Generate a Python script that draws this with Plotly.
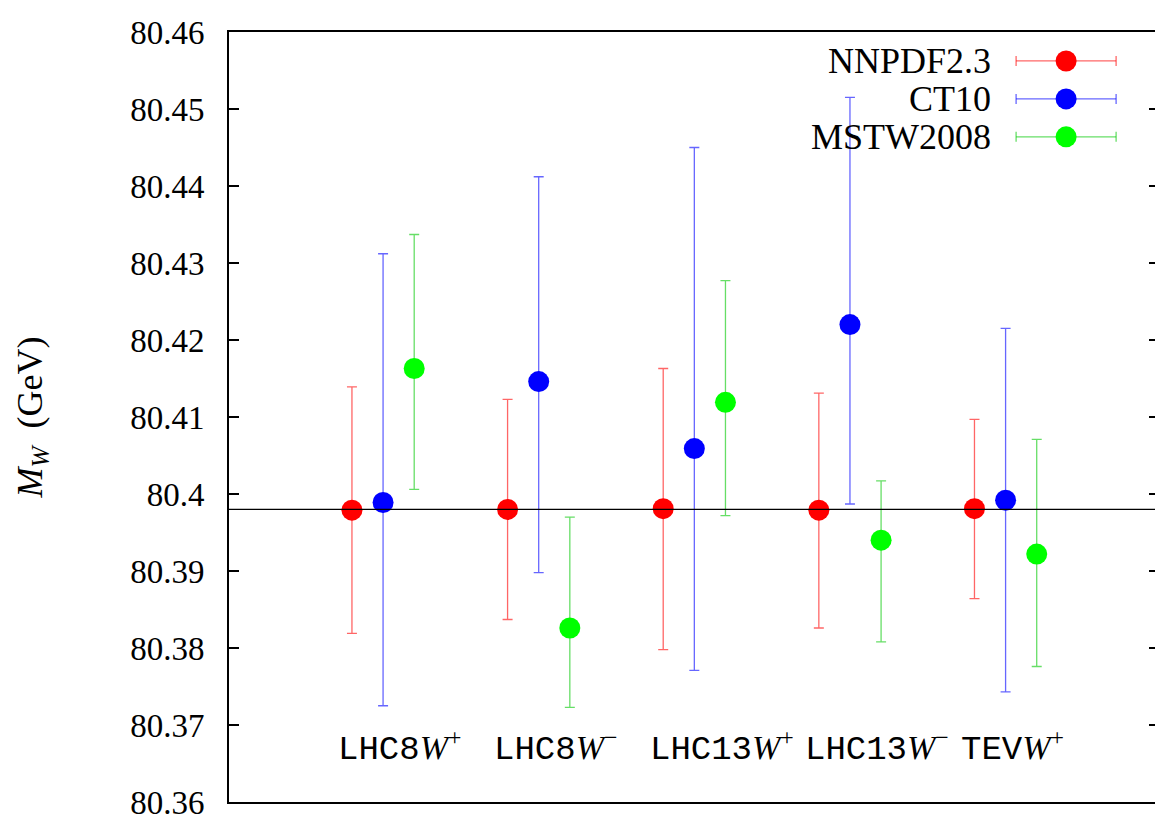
import plotly.graph_objects as go

# ---------------- data ----------------
categories = ["LHC8", "LHC8", "LHC13", "LHC13", "TEV"]
charges = ["+", "−", "+", "−", "+"]

nnpdf_central = [80.3979, 80.3980, 80.3981, 80.3979, 80.3981]
nnpdf_hi = [80.4139, 80.4123, 80.4163, 80.4131, 80.4097]
nnpdf_lo = [80.3819, 80.3837, 80.3798, 80.3826, 80.3864]

ct10_central = [80.3989, 80.4146, 80.4059, 80.4220, 80.3992]
ct10_hi = [80.4312, 80.4412, 80.4450, 80.4515, 80.4215]
ct10_lo = [80.3725, 80.3898, 80.3771, 80.3987, 80.3743]

mstw_central = [80.4163, 80.3826, 80.4119, 80.3940, 80.3922]
mstw_hi = [80.4337, 80.3970, 80.4277, 80.4017, 80.4071]
mstw_lo = [80.4006, 80.3723, 80.3972, 80.3808, 80.3776]

reference_mw = 80.398

series_names = ["NNPDF2.3", "CT10", "MSTW2008"]
series_colors = ["#ff0000", "#0000ff", "#00ff00"]
bar_colors = ["rgba(255,0,0,0.6)", "rgba(0,0,255,0.6)", "rgba(0,200,0,0.6)"]

ytick_vals = [80.36, 80.37, 80.38, 80.39, 80.40, 80.41, 80.42, 80.43, 80.44, 80.45, 80.46]
ytick_text = ["80.36", "80.37", "80.38", "80.39", "80.4", "80.41", "80.42", "80.43", "80.44", "80.45", "80.46"]

# ---------------- figure ----------------
SERIF = "Liberation Serif"
MONO = "Liberation Mono"

group_pos = [i + 1 for i in range(len(categories))]
offsets = [-0.2, 0.0, 0.2]
centrals = [nnpdf_central, ct10_central, mstw_central]
his = [nnpdf_hi, ct10_hi, mstw_hi]
los = [nnpdf_lo, ct10_lo, mstw_lo]

fig = go.Figure()

for k in range(3):
    xs = [g + offsets[k] for g in group_pos]
    c = centrals[k]
    plus = [h - v for h, v in zip(his[k], c)]
    minus = [v - l for v, l in zip(c, los[k])]
    fig.add_trace(go.Scatter(
        x=xs, y=c, mode="markers", name=series_names[k],
        marker=dict(color=series_colors[k], size=21, line=dict(width=0)),
        error_y=dict(type="data", symmetric=False, array=plus, arrayminus=minus,
                     color=bar_colors[k], thickness=1.3, width=5),
        showlegend=False,
    ))

# right-side mirror ticks
fig.add_trace(go.Scatter(x=[], y=[], yaxis="y2", showlegend=False))

# horizontal reference line
fig.add_shape(type="line", xref="paper", x0=0, x1=1, yref="y", y0=reference_mw, y1=reference_mw,
              line=dict(color="black", width=1.2))

# category labels inside the plot
for g, cat, ch in zip(group_pos, categories, charges):
    fig.add_annotation(
        x=g - 0.30, y=80.3672, xref="x", yref="y", xanchor="left", yanchor="middle",
        showarrow=False,
        text=f"<span style='font-family:{MONO}'>{cat}</span><i>W</i><sup>{ch}</sup>",
        font=dict(family=SERIF, size=34, color="black"),
    )

# manual legend (text left, sample right)
legend_rows = [0.9624, 0.9131, 0.8638]
for name, col, bcol, ry in zip(series_names, series_colors, bar_colors, legend_rows):
    fig.add_annotation(x=0.825, y=ry, xref="paper", yref="paper", xanchor="right", yanchor="middle",
                       showarrow=False, text=name, font=dict(family=SERIF, size=36, color="black"))
    fig.add_shape(type="line", xref="paper", yref="paper", x0=0.850, x1=0.958, y0=ry, y1=ry,
                  line=dict(color=bcol, width=1.3))
    for xc in (0.850, 0.958):
        fig.add_shape(type="line", xref="paper", yref="paper", ysizemode="pixel", yanchor=ry,
                      x0=xc, x1=xc, y0=-5, y1=5, line=dict(color=bcol, width=1.3))
    fig.add_shape(type="circle", xref="paper", yref="paper", xsizemode="pixel", ysizemode="pixel",
                  xanchor=0.904, yanchor=ry, x0=-10.5, x1=10.5, y0=-10.5, y1=10.5,
                  fillcolor=col, line=dict(width=0))

fig.update_layout(
    width=1155, height=814,
    margin=dict(l=229, r=0, t=32, b=12),
    paper_bgcolor="white", plot_bgcolor="white",
    font=dict(family=SERIF, size=34, color="black"),
    xaxis=dict(range=[0.01, 5.96], showline=True, mirror=True, linecolor="black", linewidth=2,
               ticks="", showticklabels=False, showgrid=False, zeroline=False, automargin=False),
    yaxis=dict(range=[80.36, 80.46], tickvals=ytick_vals, ticktext=ytick_text,
               showline=True, linecolor="black", linewidth=2,
               ticks="inside", ticklen=10, tickwidth=1.5, tickcolor="black",
               ticklabelstandoff=16, ticklabeloverflow="allow", automargin=False,
               showgrid=False, zeroline=False,
               tickfont=dict(family=SERIF, size=33),
               title=dict(text="<i>M</i><sub><i>W</i></sub>  (GeV)", standoff=77,
                          font=dict(family=SERIF, size=36))),
    yaxis2=dict(range=[80.36, 80.46], tickvals=ytick_vals, overlaying="y", side="right",
                showline=False, ticks="inside", ticklen=6, tickwidth=1.5, tickcolor="black",
                showticklabels=False, showgrid=False, zeroline=False, automargin=False),
)

fig.write_html("out.html")
